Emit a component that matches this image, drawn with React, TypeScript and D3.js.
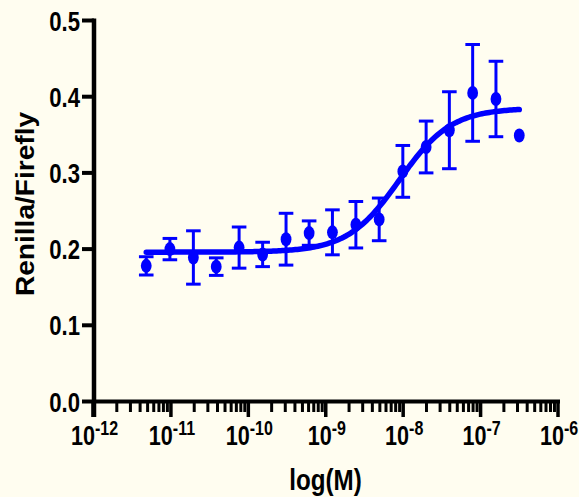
import React from "react";
import * as d3 from "d3";

// Concentrations (M), 2-fold dilution series
const concentrations = [
  4.8e-12, 9.7e-12, 1.95e-11, 3.85e-11, 7.6e-11, 1.53e-10, 3.07e-10, 6.1e-10,
  1.22e-9, 2.45e-9, 4.9e-9, 9.9e-9, 1.98e-8, 3.95e-8, 7.9e-8, 1.58e-7, 3.16e-7,
];
// Mean Renilla/Firefly ratio
const means = [
  0.178, 0.2, 0.189, 0.177, 0.202, 0.193, 0.213, 0.221, 0.222, 0.232, 0.239,
  0.302, 0.334, 0.356, 0.405, 0.397, 0.349,
];
// Error (half-length of error bars)
const errors = [
  0.012, 0.014, 0.035, 0.0115, 0.027, 0.016, 0.034, 0.016, 0.0295, 0.0305,
  0.028, 0.034, 0.034, 0.0505, 0.0635, 0.0495, 0,
];
// Fitted 4-parameter logistic curve
const fitBottom = 0.196;
const fitTop = 0.385;
const fitLogEC50 = -8.05;
const fitHill = 1.3;

const yTicks = [0, 0.1, 0.2, 0.3, 0.4, 0.5];
const yTickLabels = ["0.0", "0.1", "0.2", "0.3", "0.4", "0.5"];
const xDecades = [-12, -11, -10, -9, -8, -7, -6];

const W = 579;
const H = 497;
const BLUE = "#0000FF";
const BG = "#FFFDF0";
const FONT = "'Liberation Sans', Arial, sans-serif";

export default function App() {
  const x = d3.scaleLog().domain([1e-12, 1e-6]).range([93.5, 558]);
  const y = d3.scaleLinear().domain([0, 0.5]).range([401.5, 20.5]);

  const axisX = 94;
  const axisY = 401.5;

  // minor ticks
  const minor: number[] = [];
  for (let d = -12; d < -6; d++) {
    for (let m = 2; m <= 9; m++) minor.push(m * Math.pow(10, d));
  }

  const fit = (lc: number) =>
    fitBottom + (fitTop - fitBottom) / (1 + Math.pow(10, (fitLogEC50 - lc) * fitHill));
  const lmin = Math.log10(concentrations[0]);
  const lmax = Math.log10(concentrations[concentrations.length - 1]);
  const curvePts: [number, number][] = d3
    .range(0, 201)
    .map((i) => lmin + ((lmax - lmin) * i) / 200)
    .map((lc) => [x(Math.pow(10, lc)), y(fit(lc))]);
  const line = d3.line();

  return (
    <svg
      width={W}
      height={H}
      style={{ position: "absolute", left: 0, top: 0 }}
      fontFamily={FONT}
      fontWeight="bold"
    >
      <rect x={0} y={0} width={W} height={H} fill={BG} />

      {/* Y axis */}
      <line x1={axisX} x2={axisX} y1={y(0.5) - 2} y2={417} stroke="#000" strokeWidth={4.5} />
      {yTicks.map((t, i) => (
        <g key={"yt" + i}>
          <line x1={82} x2={axisX} y1={y(t)} y2={y(t)} stroke="#000" strokeWidth={4} />
          <g transform={`translate(80,${y(t) + 10}) scale(0.79,1)`}>
            <text textAnchor="end" fontSize={28} fill="#000">
              {yTickLabels[i]}
            </text>
          </g>
        </g>
      ))}

      {/* X axis */}
      <line x1={axisX} x2={x(1e-6) + 2} y1={axisY} y2={axisY} stroke="#000" strokeWidth={4} />
      {minor.map((v, i) => (
        <line key={"mn" + i} x1={x(v)} x2={x(v)} y1={axisY} y2={412} stroke="#000" strokeWidth={3} />
      ))}
      {xDecades.map((d) => (
        <g key={"xd" + d}>
          <line
            x1={x(Math.pow(10, d))}
            x2={x(Math.pow(10, d))}
            y1={axisY}
            y2={417}
            stroke="#000"
            strokeWidth={d === -12 ? 4.5 : 3.5}
          />
          <g transform={`translate(${x(Math.pow(10, d)) + 1},444.5) scale(0.8,1)`}>
            <text textAnchor="middle" fontSize={27} fill="#000">
              <tspan>10</tspan>
              <tspan dy={-9.5} fontSize={20}>
                {String(d)}
              </tspan>
            </text>
          </g>
        </g>
      ))}

      {/* Axis titles */}
      <g transform="translate(325.5,490) scale(0.82,1)">
        <text textAnchor="middle" fontSize={29.5} fill="#000">
          log(M)
        </text>
      </g>
      <g transform="translate(34,204) rotate(-90) scale(1.06,1)">
        <text textAnchor="middle" fontSize={26.5} fill="#000">
          Renilla/Firefly
        </text>
      </g>

      {/* Error bars */}
      {concentrations.map((c, i) =>
        errors[i] > 0 ? (
          <g key={"eb" + i} stroke={BLUE} strokeWidth={3}>
            <line x1={x(c)} x2={x(c)} y1={y(means[i] + errors[i])} y2={y(means[i] - errors[i])} />
            <line x1={x(c) - 7.3} x2={x(c) + 7.3} y1={y(means[i] + errors[i])} y2={y(means[i] + errors[i])} />
            <line x1={x(c) - 7.3} x2={x(c) + 7.3} y1={y(means[i] - errors[i])} y2={y(means[i] - errors[i])} />
          </g>
        ) : null
      )}

      {/* Fitted curve */}
      <path d={line(curvePts) || ""} fill="none" stroke={BLUE} strokeWidth={5.5} strokeLinecap="round" />

      {/* Points */}
      {concentrations.map((c, i) => (
        <ellipse key={"pt" + i} cx={x(c)} cy={y(means[i])} rx={5.4} ry={7} fill={BLUE} />
      ))}
    </svg>
  );
}
